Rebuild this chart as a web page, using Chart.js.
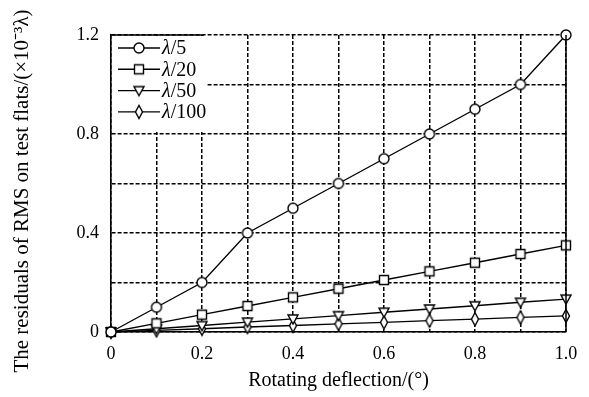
<!DOCTYPE html>
<html>
<head>
<meta charset="utf-8">
<script src="https://cdn.jsdelivr.net/npm/chart.js@4/dist/chart.umd.min.js"></script>
<style>
  html, body { margin: 0; padding: 0; background: #fff; }
  #wrap { width: 589px; height: 397px; }
</style>
</head>
<body>
<div id="wrap"><canvas id="myChart" width="589" height="397"></canvas></div>
<script>
const deflexion = [0, 0.1, 0.2, 0.3, 0.4, 0.5, 0.6, 0.7, 0.8, 0.9, 1.0];
const nombres = ['5', '20', '50', '100'];
const lam5   = [0, 0.10, 0.20, 0.40, 0.50, 0.60, 0.70, 0.80, 0.90, 1.00, 1.20];
const lam20  = [0, 0.035, 0.07, 0.105, 0.14, 0.175, 0.21, 0.245, 0.28, 0.315, 0.35];
const lam50  = [0, 0.013, 0.026, 0.04, 0.053, 0.066, 0.08, 0.093, 0.106, 0.12, 0.133];
const lam100 = [0, 0.0065, 0.013, 0.02, 0.026, 0.033, 0.039, 0.046, 0.052, 0.059, 0.065];
const series = [lam5, lam20, lam50, lam100];
const tituloY = 'The residuals of RMS on test flats/(×10⁻³λ)';

// marcadores huecos dibujados a mano
function marcador(tipo) {
  const c = document.createElement('canvas');
  c.width = 14; c.height = 16;
  const g = c.getContext('2d');
  g.fillStyle = '#fff';
  g.strokeStyle = '#000';
  g.lineWidth = 1.4;
  g.beginPath();
  if (tipo === 'circulo') {
    g.arc(7, 8, 5, 0, Math.PI * 2);
  } else if (tipo === 'cuadrado') {
    g.rect(2.5, 3.5, 9, 9);
  } else if (tipo === 'triangulo') {
    g.moveTo(2, 4); g.lineTo(12, 4); g.lineTo(7, 13); g.closePath();
  } else {
    g.moveTo(7, 1.5); g.lineTo(10.5, 8); g.lineTo(7, 14.5); g.lineTo(3.5, 8); g.closePath();
  }
  g.fill();
  g.stroke();
  return c;
}
const marcas = [marcador('circulo'), marcador('cuadrado'), marcador('triangulo'), marcador('rombo')];

const fuente = 'Liberation Serif, Times New Roman, serif';

const leyendaDentro = {
  id: 'leyendaDentro',
  afterDatasetsDraw(chart) {
    const ctx = chart.ctx;
    const a = chart.chartArea;
    ctx.save();
    ctx.fillStyle = '#fff';
    ctx.fillRect(a.left + 1, a.top + 1, 95, 96);
    // borde derecho solido
    ctx.strokeStyle = '#000';
    ctx.lineWidth = 1.5;
    ctx.beginPath();
    ctx.moveTo(a.right, a.top);
    ctx.lineTo(a.right, a.bottom);
    ctx.stroke();
    ctx.beginPath();
    ctx.moveTo(a.left, a.top);
    ctx.lineTo(a.left + 93, a.top);
    ctx.stroke();
    for (let i = 0; i < nombres.length; i++) {
      const y = a.top + 13 + i * 21.3;
      ctx.lineWidth = 1.4;
      ctx.beginPath();
      ctx.moveTo(a.left + 7, y);
      ctx.lineTo(a.left + 49, y);
      ctx.stroke();
      ctx.drawImage(marcas[i], a.left + 28 - 7, y - 8);
      ctx.fillStyle = '#000';
      ctx.textBaseline = 'middle';
      ctx.font = 'italic 20px ' + fuente;
      ctx.fillText('λ', a.left + 51, y + 1);
      const w = ctx.measureText('λ').width;
      ctx.font = '20px ' + fuente;
      ctx.fillText('/' + nombres[i], a.left + 51 + w, y + 1);
    }
    // titulo del eje y, un poco mas abajo que el centro del area
    ctx.translate(22, 191);
    ctx.rotate(-Math.PI / 2);
    ctx.textAlign = 'center';
    ctx.textBaseline = 'middle';
    ctx.font = '21px ' + fuente;
    ctx.fillText(tituloY, 0, 0);
    ctx.restore();
  }
};

new Chart(document.getElementById('myChart'), {
  type: 'line',
  data: {
    datasets: series.map((s, i) => ({
      label: 'λ/' + nombres[i],
      data: s.map((v, j) => ({ x: deflexion[j], y: v })),
      borderColor: '#000',
      borderWidth: 1.4,
      pointStyle: marcas[i],
      pointRadius: 5,
      clip: false,
      tension: 0
    }))
  },
  options: {
    responsive: false,
    animation: false,
    layout: { padding: { top: 35, right: 23, left: 0, bottom: 0 } },
    plugins: { legend: { display: false }, tooltip: { enabled: false } },
    scales: {
      x: {
        type: 'linear',
        min: 0, max: 1,
        afterFit: s => { s.height = 65; },
        grid: { color: '#000', lineWidth: 1.5, drawTicks: false },
        border: { color: '#000', width: 1.6, dash: [4, 2] },
        ticks: {
          stepSize: 0.1,
          padding: 11,
          color: '#000',
          font: { family: fuente, size: 18 },
          maxRotation: 0,
          autoSkip: false,
          callback: v => {
            const k = Math.round(v * 10);
            if (k % 2 !== 0) return '';
            if (k === 0) return '0';
            return (k / 10).toFixed(1);
          }
        },
        title: {
          display: true,
          text: 'Rotating deflection/(°)',
          color: '#000',
          font: { family: fuente, size: 20 },
          padding: { top: 2 }
        }
      },
      y: {
        min: 0, max: 1.2,
        afterFit: s => { s.width = 111; },
        grid: { color: '#000', lineWidth: 1.5, drawTicks: false },
        border: { color: '#000', width: 1.6, dash: [4, 2] },
        ticks: {
          stepSize: 0.2,
          padding: 12,
          color: '#000',
          font: { family: fuente, size: 18 },
          autoSkip: false,
          callback: v => {
            const k = Math.round(v * 10);
            if (k % 4 !== 0) return '';
            if (k === 0) return '0';
            return (k / 10).toFixed(1);
          }
        }
      }
    }
  },
  plugins: [leyendaDentro]
});
</script>
</body>
</html>
